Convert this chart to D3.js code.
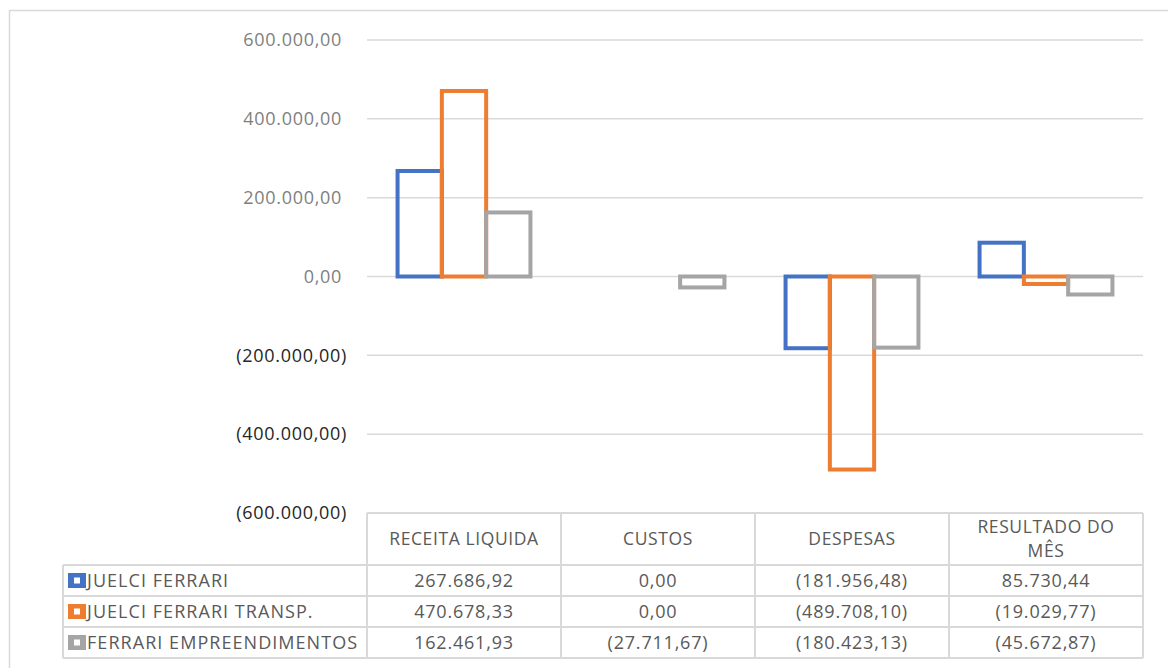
<!DOCTYPE html>
<html>
<head>
<meta charset="utf-8">
<script src="https://cdn.jsdelivr.net/npm/d3@7/dist/d3.min.js"></script>
<style>
  html, body { margin: 0; padding: 0; background: #fff; }
  svg { display: block; }
  text { font-family: "Open Sans", "Noto Sans", sans-serif; }
</style>
</head>
<body>
<svg id="chart" width="1168" height="668"></svg>
<script>
// ---- data ----
const categories = ["RECEITA LIQUIDA", "CUSTOS", "DESPESAS", "RESULTADO DO MÊS"];
const seriesNames = ["JUELCI FERRARI", "JUELCI FERRARI TRANSP.", "FERRARI EMPREENDIMENTOS"];
const juelciFerrari = [267686.92, 0.00, -181956.48, 85730.44];
const juelciFerrariTransp = [470678.33, 0.00, -489708.10, -19029.77];
const ferrariEmpreendimentos = [162461.93, -27711.67, -180423.13, -45672.87];
const yTicks = [600000, 400000, 200000, 0, -200000, -400000, -600000];
const colors = ["#4472C4", "#ED7D31", "#A5A5A5"];

const seriesValues = [juelciFerrari, juelciFerrariTransp, ferrariEmpreendimentos];

// ---- formatting (pt-BR, negatives in parentheses) ----
const loc = d3.formatLocale({ decimal: ",", thousands: ".", grouping: [3], currency: ["", ""] });
const f2 = loc.format(",.2f");
const fmt = v => v < 0 ? "(" + f2(-v) + ")" : f2(v);

const svg = d3.select("#chart");

// outer border
svg.append("rect").attr("x", 9.5).attr("y", 10.5).attr("width", 1170).attr("height", 680)
  .attr("fill", "none").attr("stroke", "#d9d9d9").attr("stroke-width", 1.5);

const plotL = 367, plotR = 1143, plotT = 40, plotB = 513;
const y = d3.scaleLinear().domain([-600000, 600000]).range([plotB, plotT]);
const x0 = d3.scaleBand().domain(categories).range([plotL, plotR]).padding(0);
const x1 = d3.scaleBand().domain(seriesNames).range([0, x0.bandwidth()]).paddingInner(0).paddingOuter(0.69);

// gridlines
svg.append("g").selectAll("line").data(yTicks.filter(t => t !== -600000)).join("line")
  .attr("x1", plotL).attr("x2", plotR)
  .attr("y1", d => y(d)).attr("y2", d => y(d))
  .attr("stroke", "#d9d9d9").attr("stroke-width", 1.5);

// y axis labels
svg.append("g").selectAll("text").data(yTicks).join("text")
  .attr("x", d => d < 0 ? 347 : 342)
  .attr("y", d => y(d))
  .attr("dy", "0.35em")
  .attr("text-anchor", "end")
  .attr("font-size", 18)
  .attr("letter-spacing", 0.7)
  .attr("fill", d => d < 0 ? "#262626" : "#7f7f7f")
  .text(d => fmt(d));

// bars
const bars = [];
seriesNames.forEach((s, si) => {
  categories.forEach((c, ci) => {
    bars.push({ s, si, c, v: seriesValues[si][ci] });
  });
});
svg.append("g").selectAll("rect").data(bars.filter(b => b.v !== 0)).join("rect")
  .attr("x", d => x0(d.c) + x1(d.s))
  .attr("width", x1.bandwidth())
  .attr("y", d => Math.min(y(d.v), y(0)))
  .attr("height", d => Math.abs(y(d.v) - y(0)))
  .attr("fill", "none")
  .attr("stroke", d => colors[d.si])
  .attr("stroke-width", 4);

// ---- data table ----
const headT = plotB, headB = 565;
const rowH = 31;
const rows = seriesNames.map((s, i) => headB + i * rowH);
const tableB = headB + 3 * rowH;
const legL = 63;
const lineColor = "#d9d9d9";
const tg = svg.append("g");

tg.append("line").attr("x1", plotL).attr("x2", plotR).attr("y1", headT).attr("y2", headT)
  .attr("stroke", lineColor).attr("stroke-width", 2);
[headB, ...rows.slice(1), tableB].forEach(yy => {
  tg.append("line").attr("x1", legL).attr("x2", plotR).attr("y1", yy).attr("y2", yy)
    .attr("stroke", lineColor).attr("stroke-width", 2);
});
const colEdges = [plotL, ...categories.map(c => x0(c) + x0.bandwidth())];
colEdges.forEach(xx => {
  tg.append("line").attr("x1", xx).attr("x2", xx).attr("y1", headT).attr("y2", tableB)
    .attr("stroke", lineColor).attr("stroke-width", 2);
});
tg.append("line").attr("x1", legL).attr("x2", legL).attr("y1", headB).attr("y2", tableB)
  .attr("stroke", lineColor).attr("stroke-width", 2);

// header labels
categories.forEach(c => {
  const cx = x0(c) + x0.bandwidth() / 2;
  const words = c === "RESULTADO DO MÊS" ? ["RESULTADO DO", "MÊS"] : [c];
  const t = tg.append("text").attr("x", cx).attr("text-anchor", "middle")
    .attr("font-size", 17.5).attr("letter-spacing", 0.6).attr("fill", "#595959");
  if (words.length === 1) {
    t.attr("y", (headT + headB) / 2).attr("dy", "0.35em").text(c);
  } else {
    words.forEach((w, i) => {
      t.append("tspan").attr("x", cx).attr("y", headT + 14 + i * 24).attr("dy", "0.35em").text(w);
    });
  }
});

// legend cells + values
seriesNames.forEach((s, si) => {
  const top = rows[si];
  const cy = top + rowH / 2;
  tg.append("rect").attr("x", legL + 5).attr("y", cy - 7.5).attr("width", 18).attr("height", 15)
    .attr("fill", colors[si]);
  tg.append("rect").attr("x", legL + 11).attr("y", cy - 3).attr("width", 6).attr("height", 6)
    .attr("fill", "#fff");
  tg.append("text").attr("x", legL + 24).attr("y", cy).attr("dy", "0.35em")
    .attr("font-size", 18).attr("letter-spacing", 1.05).attr("fill", "#595959").text(s);
  categories.forEach((c, ci) => {
    tg.append("text").attr("x", x0(c) + x0.bandwidth() / 2).attr("y", cy).attr("dy", "0.35em")
      .attr("text-anchor", "middle").attr("font-size", 18).attr("letter-spacing", 0.8).attr("fill", "#595959")
      .text(fmt(seriesValues[si][ci]));
  });
});
</script>
</body>
</html>
